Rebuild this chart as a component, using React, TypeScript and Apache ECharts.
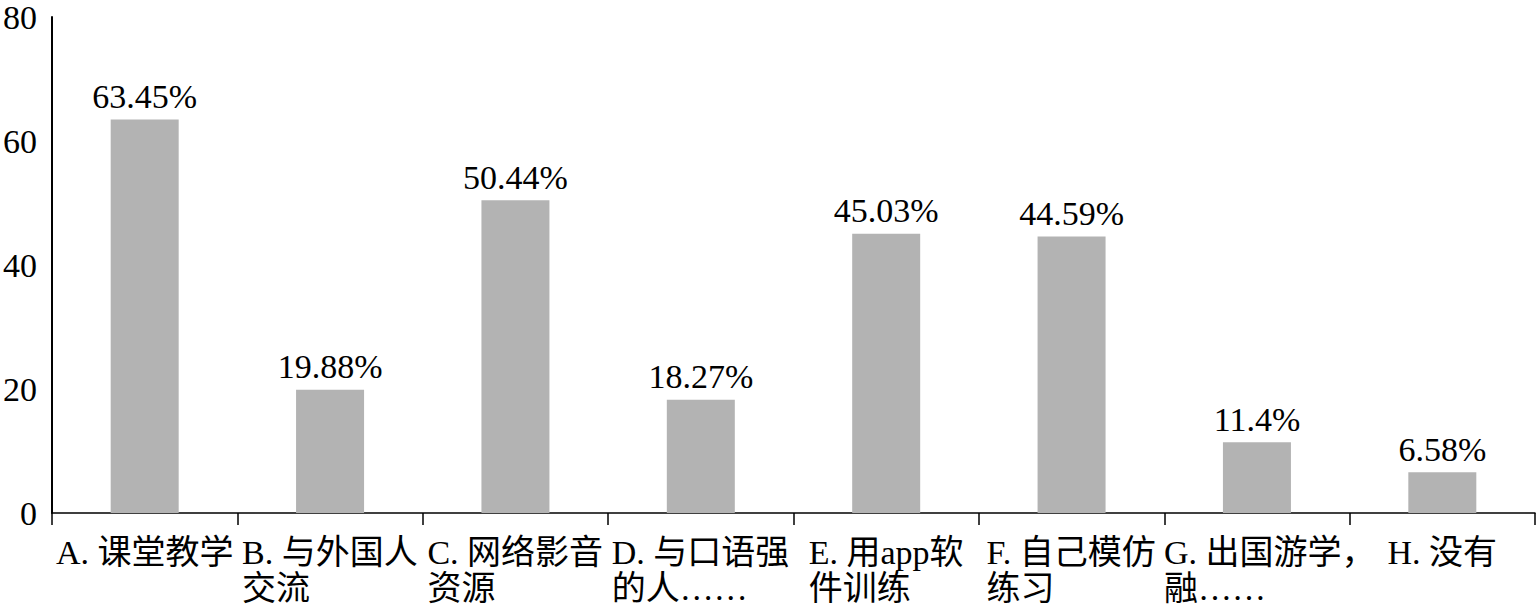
import React, { useEffect, useRef } from "react";
import * as echarts from "echarts";

const categories: string[] = [
  "A. 课堂教学",
  "B. 与外国人\n交流",
  "C. 网络影音\n资源",
  "D. 与口语强\n的人……",
  "E. 用app软\n件训练",
  "F. 自己模仿\n练习",
  "G. 出国游学，\n融……",
  "H. 没有",
];
const values: number[] = [63.45, 19.88, 50.44, 18.27, 45.03, 44.59, 11.4, 6.58];
const valueLabels: string[] = ["63.45%", "19.88%", "50.44%", "18.27%", "45.03%", "44.59%", "11.4%", "6.58%"];
const yTicks: number[] = [0, 20, 40, 60, 80];

const FONT = '"Liberation Serif", "Noto Sans CJK SC", serif';
const FS = 34;

function measure(text: string): number {
  const c = document.createElement("canvas").getContext("2d");
  if (!c) return text.length * FS;
  c.font = `${FS}px ${FONT}`;
  let w = Math.ceil(c.measureText(text).width);
  if (text.endsWith("，")) w -= 26;
  return w;
}

export default function App() {
  const ref = useRef<HTMLDivElement>(null);
  useEffect(() => {
    if (!ref.current) return;
    const chart = echarts.init(ref.current, undefined, { renderer: "svg" });
    const rich: Record<string, any> = {};
    const keyFor: Record<string, string> = {};
    categories.forEach((cat, i) => {
      const lines = cat.split("\n");
      if (lines.length > 1) {
        const w = Math.max(...lines.map(measure));
        rich["w" + i] = {
          width: w,
          align: "left",
          fontSize: FS,
          fontFamily: FONT,
          color: "#000",
          lineHeight: 36,
        };
        keyFor[cat] = "w" + i;
      }
    });
    chart.setOption({
      animation: false,
      grid: { left: 48, right: 1, top: 17, bottom: 95, containLabel: false },
      xAxis: {
        type: "category",
        data: categories,
        axisLine: { show: true, lineStyle: { color: "#000", width: 1.5 } },
        axisTick: { show: true, alignWithLabel: false, length: 12, lineStyle: { color: "#000", width: 1.5 } },
        axisLabel: {
          interval: 0,
          margin: 21,
          color: "#000",
          fontSize: FS,
          fontFamily: FONT,
          lineHeight: 36,
          rich,
          formatter: (v: string) => {
            const k = keyFor[v];
            if (!k) return v;
            return v
              .split("\n")
              .map((l) => `{${k}|${l}}`)
              .join("\n");
          },
        },
      },
      yAxis: {
        type: "value",
        min: yTicks[0],
        max: yTicks[yTicks.length - 1],
        interval: 20,
        axisLine: { show: true, lineStyle: { color: "#000", width: 2 } },
        axisTick: { show: false },
        splitLine: { show: false },
        axisLabel: { margin: 15, color: "#000", fontSize: FS, fontFamily: FONT },
      },
      series: [
        {
          type: "bar",
          data: values,
          barWidth: 68,
          itemStyle: { color: "#b3b3b3" },
          label: {
            show: true,
            position: "top",
            distance: 6,
            color: "#000",
            fontSize: FS,
            fontFamily: FONT,
            formatter: (p: any) => valueLabels[p.dataIndex],
          },
        },
      ],
    });
    return () => chart.dispose();
  }, []);
  return (
    <div
      ref={ref}
      style={{ position: "absolute", left: 0, top: 0, width: 1536, height: 608, background: "#fff" }}
    />
  );
}
